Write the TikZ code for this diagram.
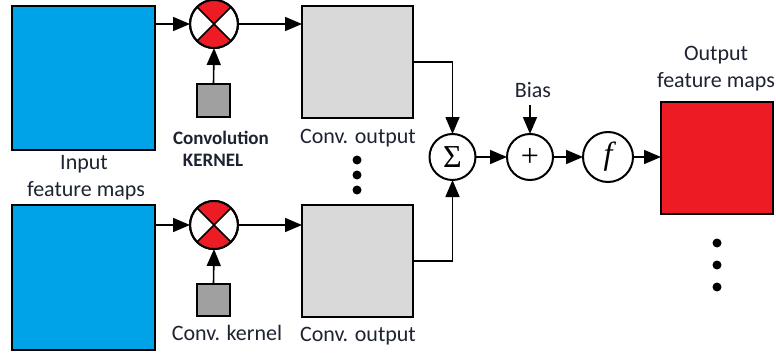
\documentclass[tikz,border=0pt]{standalone}
\usepackage[no-math]{fontspec}
\setmainfont{Carlito}
\newfontfamily\symserif{Liberation Serif}
\usetikzlibrary{arrows.meta}
\definecolor{inblue}{RGB}{0,162,232}
\definecolor{outred}{RGB}{237,28,36}
\definecolor{kgray}{RGB}{160,160,160}
\definecolor{cgray}{RGB}{217,217,217}
\definecolor{txt}{RGB}{30,35,50}
\tikzset{
  box/.style={draw=black, line width=2pt, inner sep=0pt, outer sep=0pt},
  inbox/.style={box, fill=inblue, minimum width=143pt, minimum height=144pt},
  convbox/.style={box, fill=cgray, minimum width=111pt, minimum height=112pt},
  outbox/.style={box, fill=outred, minimum width=112pt, minimum height=112pt},
  kbox/.style={box, fill=kgray, minimum size=33pt},
  circ/.style={draw=black, line width=2pt, fill=white, circle, inner sep=0pt, outer sep=0pt, minimum size=46pt, font=\symserif\fontsize{32}{34}\selectfont},
  mult/.style={circ, minimum size=48pt},
  arr/.style={-{Triangle[length=17pt,width=14pt]}, line width=1.6pt},
  lbl/.style={text=txt, font=\fontsize{22}{24}\selectfont, inner sep=0pt, anchor=base},
  blbl/.style={text=txt, font=\fontsize{19}{21}\selectfont\bfseries, inner sep=0pt, anchor=base},
  dot/.style={fill=black, circle, inner sep=0pt, minimum size=9pt},
}
\newcommand\multnode[2]{%
  \node[mult] (#1) at (#2) {};
  \begin{scope}
    \clip (#1.center) circle[radius=23pt];
    \fill[outred] (#1.center) -- +(-40pt,40pt) -- +(40pt,40pt) -- cycle;
    \fill[outred] (#1.center) -- +(-40pt,-40pt) -- +(40pt,-40pt) -- cycle;
  \end{scope}
  \draw[line width=1.6pt] (#1.45) -- (#1.225) (#1.135) -- (#1.315);
  \draw[line width=2pt] (#1.center) circle[radius=24pt];
}
\begin{document}
\begin{tikzpicture}[x=1pt,y=-1pt]
\useasboundingbox (0,0) rectangle (776,353);

% input feature maps
\node[inbox] (in1) at (83.5,78) {};
\node[inbox, minimum height=145pt] (in2) at (83.5,277.5) {};
\node[lbl] (tin1) at (84,169) {Input};
\node[lbl] (tin2) at (86,196) {feature maps};

% multipliers
\multnode{m1}{214,24}
\multnode{m2}{214,225}

% kernels
\node[kbox] (k1) at (213.5,100.5) {};
\node[kbox, minimum height=32pt] (k2) at (213.5,300) {};
\node[blbl] (tk1) at (221,144) {Convolution};
\node[blbl] (tk2) at (213,166) {KERNEL};
\node[lbl] (tk3) at (227,340) {Conv. kernel};

% conv outputs
\node[convbox] (c1) at (357.5,62) {};
\node[convbox] (c2) at (357.5,261) {};
\node[lbl] (tc1) at (358,143) {Conv. output};
\node[lbl] (tc2) at (358,341) {Conv. output};
\node[dot] (d1) at (357,160) {};
\node[dot] (d2) at (357,175) {};
\node[dot] (d3) at (357,190) {};

% sum, bias, activation
\node[circ] (sum) at (452.5,157) {Σ};
\node[circ] (plus) at (530,157) {+};
\node[circ, minimum size=50pt] (f) at (608,157) {\itshape f};
\node[lbl] (bias) at (533,97) {Bias};
\coordinate (bstart) at (530,105);

% output
\node[outbox] (out) at (717,158) {};
\node[lbl] (to1) at (716,61) {Output};
\node[lbl] (to2) at (716,88) {feature maps};
\node[dot] (e1) at (717,243) {};
\node[dot] (e2) at (717,265) {};
\node[dot] (e3) at (717,287) {};

% connectors
\draw[arr] (in1.east |- m1) -- (m1.west);
\draw[arr] (in2.east |- m2) -- (m2.west);
\draw[arr] (k1.north) -- (m1.south);
\draw[arr] (k2.north) -- (m2.south);
\draw[arr] (m1.east) -- (c1.west |- m1);
\draw[arr] (m2.east) -- (c2.west |- m2);
\draw[arr] (c1.east) -| (sum.north);
\draw[arr] (c2.east) -| (sum.south);
\draw[arr] (sum.east) -- (plus.west);
\draw[arr] (bstart) -- (plus.north);
\draw[arr] (plus.east) -- (f.west);
\draw[arr] (f.east) -- (out.west |- f);
\end{tikzpicture}
\end{document}
